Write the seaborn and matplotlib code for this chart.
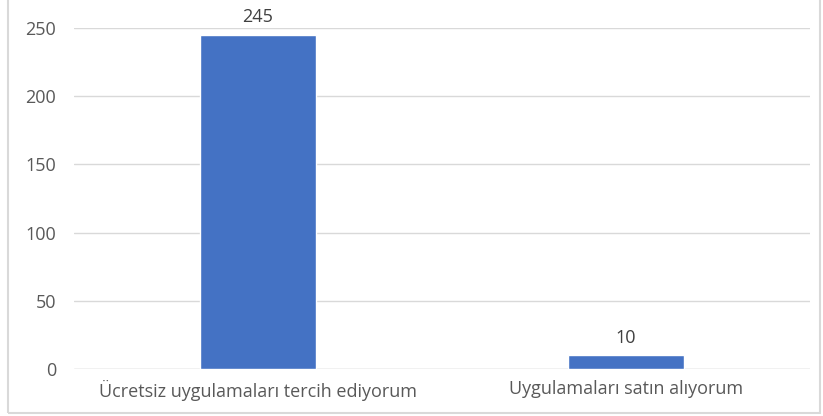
import matplotlib
matplotlib.use("Agg")
import matplotlib.pyplot as plt
import seaborn as sns
import pandas as pd
from matplotlib.patches import Rectangle

categories = ["Ücretsiz uygulamaları tercih ediyorum", "Uygulamaları satın alıyorum"]
values = [245, 10]
yticks = [0, 50, 100, 150, 200, 250]

sns.set_theme(style="white")
plt.rcParams['font.family'] = ['Open Sans', 'DejaVu Sans']

df = pd.DataFrame({"cat": categories, "val": values})

fig = plt.figure(figsize=(8.23, 4.16), dpi=100)
ax = fig.add_axes([74/823, 1-369/416, (810-74)/823, (369-28)/416])

sns.barplot(data=df, x="cat", y="val", color="#4472C4", width=0.315, ax=ax, saturation=1)

ax.set_ylim(0, 250)
ax.set_yticks(yticks)
ax.set_yticklabels([str(t) for t in yticks])
ax.yaxis.grid(True, color="#D9D9D9", linewidth=1)
ax.set_axisbelow(True)
for s in ax.spines.values():
    s.set_visible(False)
ax.axhline(0, color="#D9D9D9", linewidth=1, zorder=0.5)
ax.set_xlabel("")
ax.set_ylabel("")
ax.tick_params(axis="both", length=0, colors="#595959", labelsize=13)
ax.tick_params(axis="y", pad=13)
ax.tick_params(axis="x", pad=8)

for c in ax.containers:
    ax.bar_label(c, labels=[str(v) for v in values], padding=6, color="#404040", fontsize=13)

fig.patches.append(Rectangle((8/823, 3/416), (820-8)/823, 1.2, transform=fig.transFigure,
                             fill=False, edgecolor="#D9D9D9", linewidth=1.5))

fig.savefig("out.png", dpi=100)
